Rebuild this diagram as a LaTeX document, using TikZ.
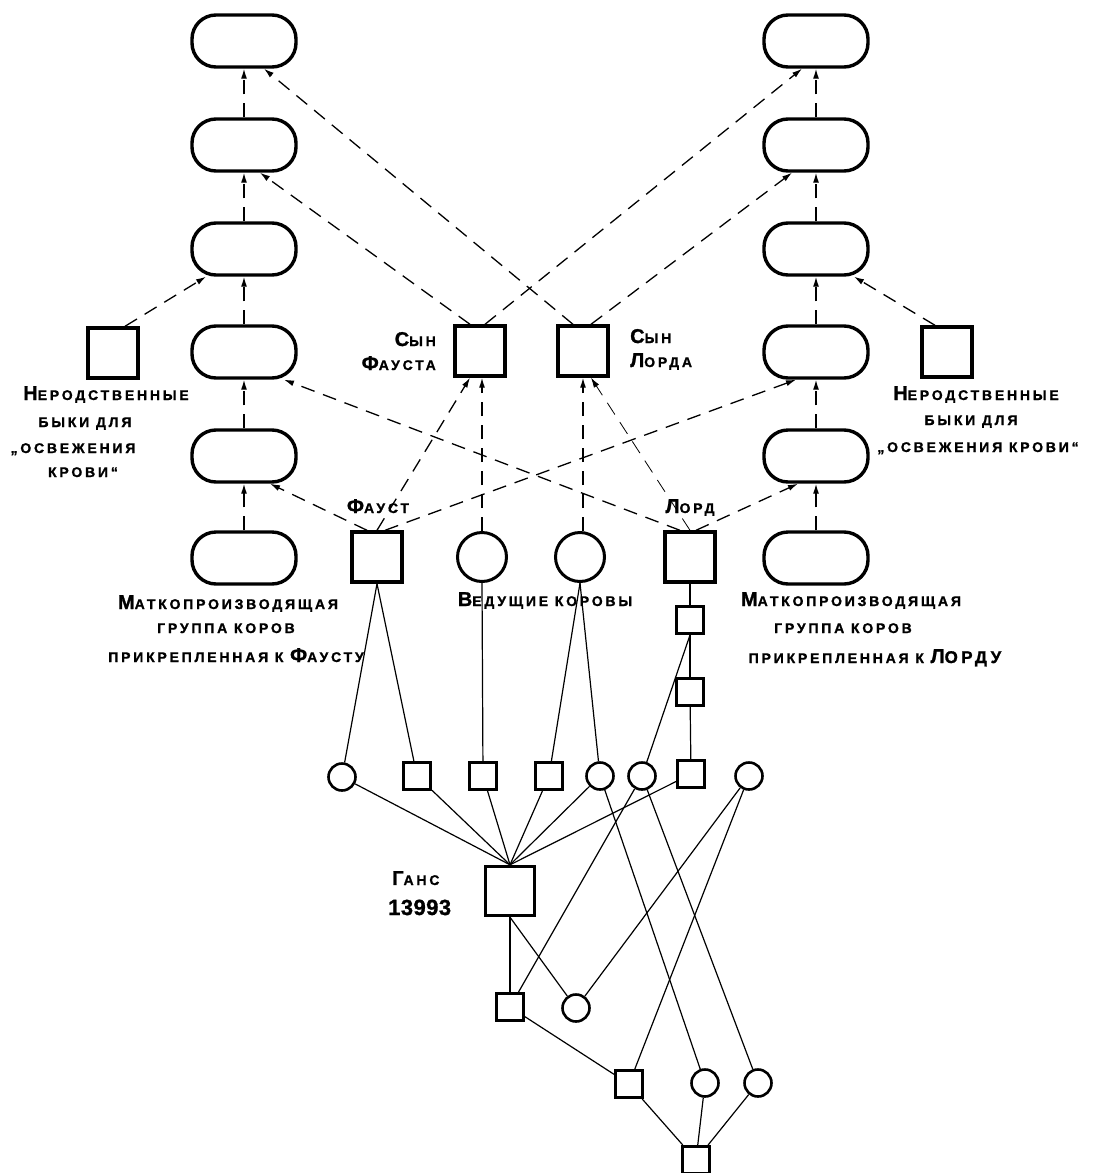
\documentclass[tikz,border=0pt]{standalone}
\usepackage{fontspec}
\setmainfont{Liberation Sans}[LetterSpace=20, BoldFeatures={FakeBold=1.2}]
\usetikzlibrary{arrows.meta}
% large initial letters and medium letters for the small-caps lettering
\newcommand\Bg[1]{{\fontsize{20}{22}\selectfont #1}}
\newcommand\Md[1]{{\fontsize{17}{19}\selectfont #1}}
\begin{document}
\begin{tikzpicture}[x=1pt,y=-1pt,
  lab/.style={font=\bfseries\fontsize{14}{16}\selectfont, inner sep=0pt, anchor=base},
  pill/.style={draw, line width=3.4pt, rounded corners=24pt, minimum width=104pt, minimum height=52pt, inner sep=0pt},
  bigsq/.style={draw, line width=3.4pt, minimum size=50pt, inner sep=0pt},
  bigcirc/.style={draw, circle, line width=3pt, minimum size=49pt, inner sep=0pt},
  smsq/.style={draw, line width=3pt, minimum size=27pt, inner sep=0pt},
  smcirc/.style={draw, circle, line width=2.6pt, minimum size=27pt, inner sep=0pt},
  kin/.style={line width=1.2pt},
  flow/.style={line width=1.3pt, dash pattern=on 14pt off 9pt, -{Latex[length=10pt,width=6pt]}},
  faint/.style={flow, line width=0.8pt},
]
\useasboundingbox (0,0) rectangle (1095,1173);

% breeding lines of cows (left and right columns)
\node[pill] (L1) at (244,41) {};
\node[pill] (L2) at (244,145) {};
\node[pill] (L3) at (244,249) {};
\node[pill] (L4) at (244,352) {};
\node[pill] (L5) at (244,456) {};
\node[pill] (L6) at (244,558) {};
\node[pill] (R1) at (816,41) {};
\node[pill] (R2) at (816,145) {};
\node[pill] (R3) at (816,249) {};
\node[pill] (R4) at (816,352) {};
\node[pill] (R5) at (816,456) {};
\node[pill] (R6) at (816,558) {};

% bulls and leading cows
\node[bigsq] (BL) at (113,353) {};
\node[bigsq] (BR) at (947,352) {};
\node[bigsq] (SF) at (480,351) {};
\node[bigsq] (SL) at (583,351) {};
\node[bigsq] (F) at (377,557) {};
\node[bigcirc] (V1) at (482,557) {};
\node[bigcirc] (V2) at (580,557) {};
\node[bigsq] (Lo) at (690,557) {};

% ancestry of Hans 13993
\node[smsq] (a1) at (690,620) {};
\node[smsq] (a2) at (690,692) {};
\node[smcirc] (c1) at (342,777) {};
\node[smsq] (s1) at (417,776) {};
\node[smsq] (s2) at (483,776) {};
\node[smsq] (s3) at (549,776) {};
\node[smcirc] (c2) at (600,776) {};
\node[smcirc] (c3) at (642,776) {};
\node[smsq] (s4) at (691,774) {};
\node[smcirc] (c4) at (749,776) {};
\node[bigsq, minimum size=49pt] (G) at (510,891) {};
\node[smsq] (b1) at (510,1007) {};
\node[smcirc] (b2) at (576,1008) {};
\node[smsq] (d1) at (629,1084) {};
\node[smcirc] (d2) at (705,1083) {};
\node[smcirc] (d3) at (758,1083) {};
\node[smsq] (e) at (696,1160) {};

% labels
\node[lab] (nb1) at (106,400) {\Bg{Н}ЕРОДСТВЕННЫЕ};
\node[lab] (nb2) at (85,427) {БЫКИ ДЛЯ};
\node[lab] (nb3) at (73,453) {„ОСВЕЖЕНИЯ};
\node[lab] (nb4) at (83,477) {КРОВИ“};
\node[lab] (rb1) at (976,400) {\Bg{Н}ЕРОДСТВЕННЫЕ};
\node[lab] (rb2) at (971,425) {БЫКИ ДЛЯ};
\node[lab] (rb3) at (978,452) {„ОСВЕЖЕНИЯ КРОВИ“};
\node[lab, anchor=base east] (sf1) at (436,346) {\Bg{С}ЫН};
\node[lab, anchor=base east] (sf2) at (436,370) {\Bg{Ф}АУСТА};
\node[lab, anchor=base west] (sl1) at (630,343) {\Bg{С}ЫН};
\node[lab, anchor=base west] (sl2) at (630,367) {\Bg{Л}ОРДА};
\node[lab] (tF) at (378,513) {\Bg{Ф}АУСТ};
\node[lab] (tL) at (690,513) {\Bg{Л}ОРД};
\node[lab] (m1) at (228,609) {\Bg{М}АТКОПРОИЗВОДЯЩАЯ};
\node[lab] (m2) at (226,633) {ГРУППА КОРОВ};
\node[lab] (m3) at (236,662) {ПРИКРЕПЛЕННАЯ К \Bg{Ф}АУСТУ};
\node[lab] (vk) at (545,606) {\Bg{В}ЕДУЩИЕ КОРОВЫ};
\node[lab] (n1) at (851,606) {\Bg{М}АТКОПРОИЗВОДЯЩАЯ};
\node[lab] (n2) at (843,633) {ГРУППА КОРОВ};
\node[lab] (n3) at (875,663) {ПРИКРЕПЛЕННАЯ К \Bg{Л}\Md{ОРДУ}};
\node[lab, anchor=base west] (g1) at (392,885) {\Bg{Г}АНС};
\node[lab, anchor=base west, font=\bfseries\fontsize{22}{24}\selectfont\addfontfeature{LetterSpace=2}] (g2) at (388,915) {13993};

% passing of blood within each line
\draw[flow] (L6) -- (L5);
\draw[flow] (L5) -- (L4);
\draw[flow] (L4) -- (L3);
\draw[flow] (L3) -- (L2);
\draw[flow] (L2) -- (L1);
\draw[flow] (R6) -- (R5);
\draw[flow] (R5) -- (R4);
\draw[flow] (R4) -- (R3);
\draw[flow] (R3) -- (R2);
\draw[flow] (R2) -- (R1);

% unrelated bulls
\draw[flow] ([xshift=12pt]BL.north) -- ([xshift=-38pt]L3.south);
\draw[flow] ([xshift=-12pt]BR.north) -- ([xshift=38pt]R3.south);

% Faust and Lord
\draw[flow] ([xshift=-10pt]F.north) -- ([xshift=26pt]L5.south);
\draw[flow] (F.north) -- ([xshift=-10pt]SF.south);
\draw[flow] ([xshift=8pt]F.north) -- ([xshift=-20pt]R4.south);
\draw[flow] ([xshift=-10pt]Lo.north) -- ([xshift=40pt]L4.south);
\draw[faint] (Lo.north) -- ([xshift=8pt]SL.south);
\draw[flow] ([xshift=6pt]Lo.north) -- ([xshift=-18pt]R5.south);

% leading cows to the sons
\draw[flow] (V1.north) -- (V1.north |- SF.south);
\draw[flow] ([xshift=3pt]V2.north) -- ([xshift=3pt]V2.north |- SL.south);

% sons of Faust and Lord
\draw[flow] ([xshift=-10pt]SF.north) -- ([xshift=16pt]L2.south);
\draw[flow] ([xshift=5pt]SF.north) -- ([xshift=-14pt]R1.south);
\draw[flow] ([xshift=-10pt]SL.north) -- ([xshift=20pt]L1.south);
\draw[flow] ([xshift=8pt]SL.north) -- ([xshift=-24pt]R2.south);

% pedigree lines
\draw[kin] (F.south) -- (c1);
\draw[kin] (F.south) -- (s1);
\draw[kin] (V1.south) -- (s2);
\draw[kin] (V2.south) -- (s3);
\draw[kin] (V2.south) -- (c2);
\draw[kin] (Lo) -- (a1);
\draw[kin] (a1) -- (a2);
\draw[kin] (a2) -- (s4);
\draw[kin] (a1.south) -- (c3);
\foreach \n in {c1,s1,s2,s3,c2,s4} \draw[kin] (\n) -- (G.north);
\draw[kin] (G) -- (b1);
\draw[kin] (G.south) -- (b2);
\draw[kin] (c3) -- (b1);
\draw[kin] (c4) -- (b2);
\draw[kin] (c4) -- (d1);
\draw[kin] (c2) -- (d2);
\draw[kin] (c3) -- (d3);
\draw[kin] (b1) -- (d1);
\draw[kin] (d1) -- (e);
\draw[kin] (d2) -- (e);
\draw[kin] (d3) -- (e);
\end{tikzpicture}
\end{document}
